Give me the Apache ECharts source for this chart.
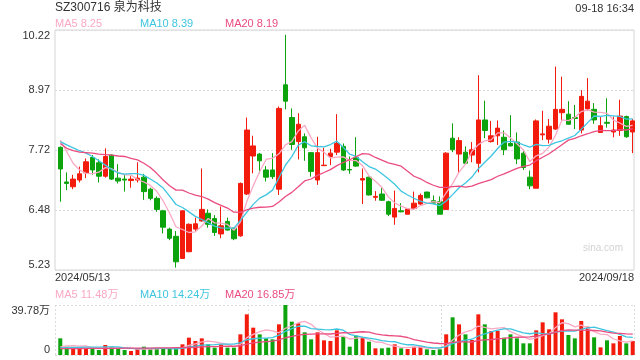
<!DOCTYPE html>
<html>
<head>
    <meta charset="utf-8">
    <script src="https://cdn.jsdelivr.net/npm/echarts@6/dist/echarts.min.js"></script>
    <style>
        html, body { margin: 0; padding: 0; background: #fff; }
        #main { width: 640px; height: 360px; }
    </style>
</head>
<body>
<div id="main"></div>
<script>
    // daily k-line, 2024/05/13 .. 2024/09/18 (90 sessions)
    var open = [7.78, 7.06, 6.96, 7.10, 7.25, 7.57, 7.46, 7.18, 7.62, 7.14,
        7.12, 7.09, 7.10, 7.16, 6.91, 6.72, 6.46, 6.08, 5.93, 5.47,
        5.61, 6.08, 6.25, 6.41, 6.30, 5.98, 6.24, 6.10, 5.94, 6.81,
        7.60, 7.64, 7.31, 7.31, 6.91, 9.08, 8.40, 7.90, 8.00, 7.67,
        7.10, 7.40, 7.59, 7.68, 7.80, 7.32, 7.57, 7.10, 7.16, 6.74,
        6.81, 6.65, 6.33, 6.46, 6.39, 6.51, 6.60, 6.85, 6.67, 6.65,
        6.49, 7.97, 7.64, 7.68, 7.62, 7.45, 8.35, 7.90, 8.02, 7.99,
        7.86, 7.89, 7.66, 7.16, 6.93, 8.04, 7.95, 8.16, 8.50, 8.47,
        8.40, 8.14, 8.58, 8.57, 8.09, 8.30, 8.10, 8.13, 8.42, 8.10];
    var close = [7.33, 7.03, 7.12, 7.23, 7.48, 7.31, 7.18, 7.59, 7.12, 7.08,
        7.10, 7.12, 7.14, 6.86, 6.72, 6.49, 6.12, 5.89, 5.40, 6.46,
        6.18, 6.19, 6.49, 6.18, 6.01, 6.15, 6.06, 5.88, 7.03, 8.14,
        7.81, 7.50, 7.16, 7.17, 8.59, 8.74, 7.84, 8.26, 7.77, 7.28,
        7.67, 7.41, 7.66, 7.86, 7.31, 7.31, 7.39, 7.13, 6.79, 6.76,
        6.68, 6.39, 6.51, 6.44, 6.50, 6.62, 6.78, 6.73, 6.62, 6.39,
        7.66, 7.73, 7.92, 7.45, 7.73, 8.35, 8.13, 8.02, 8.18, 7.73,
        7.81, 7.54, 7.36, 6.98, 8.33, 8.06, 8.22, 8.57, 8.57, 8.26,
        8.38, 8.84, 8.74, 8.35, 8.23, 8.28, 8.14, 8.43, 8.00, 8.33];
    var low = [6.65, 6.89, 6.91, 7.05, 7.14, 7.21, 7.05, 7.15, 7.10, 7.03,
        6.86, 6.94, 7.05, 6.69, 6.68, 6.44, 5.99, 5.85, 5.28, 5.47,
        5.60, 6.03, 6.24, 6.11, 5.94, 5.89, 6.05, 5.85, 5.92, 6.79,
        7.24, 7.24, 7.07, 7.12, 6.79, 8.57, 7.73, 7.53, 7.50, 7.17,
        7.00, 7.39, 7.41, 7.62, 7.29, 7.23, 7.38, 6.60, 6.78, 6.67,
        6.67, 6.35, 6.17, 6.43, 6.39, 6.49, 6.58, 6.72, 6.60, 6.39,
        6.48, 7.68, 7.24, 7.43, 7.47, 7.26, 7.97, 7.88, 7.83, 7.62,
        7.80, 7.43, 7.31, 6.91, 6.93, 7.93, 7.86, 8.14, 8.31, 8.25,
        8.16, 8.07, 8.54, 8.27, 8.09, 8.19, 7.99, 8.02, 7.98, 7.66];
    var high = [7.80, 7.26, 7.21, 7.38, 7.55, 7.62, 7.53, 7.76, 7.63, 7.43,
        7.21, 7.18, 7.47, 7.23, 6.94, 6.76, 6.48, 6.11, 6.04, 6.47,
        6.20, 6.32, 7.34, 6.49, 6.37, 6.55, 6.32, 6.11, 7.05, 8.40,
        8.02, 7.66, 7.39, 7.66, 8.63, 10.12, 8.59, 8.49, 8.07, 7.68,
        8.00, 7.77, 7.75, 8.47, 7.86, 7.59, 7.99, 7.34, 7.17, 6.87,
        6.94, 6.67, 6.88, 6.62, 6.51, 6.86, 6.82, 6.86, 6.78, 6.76,
        7.68, 8.28, 7.99, 7.80, 7.89, 9.28, 8.75, 8.33, 8.34, 8.13,
        8.45, 8.09, 7.73, 7.30, 8.36, 8.54, 8.37, 9.46, 9.25, 8.74,
        8.66, 8.97, 9.22, 8.70, 8.42, 8.80, 8.42, 8.77, 8.44, 8.37];
    // volume, 万手
    var volume = [13.26, 6.63, 5.83, 5.30, 5.30, 4.77, 3.98, 7.96, 6.63, 5.30,
        3.98, 3.18, 4.77, 6.63, 4.77, 4.77, 5.30, 5.30, 5.83, 8.49,
        13.79, 11.14, 13.26, 8.49, 5.83, 8.49, 5.83, 5.83, 16.44, 32.36,
        21.75, 16.44, 13.26, 12.46, 24.40, 39.78, 26.52, 25.19, 18.03, 12.46,
        18.03, 11.67, 11.14, 19.62, 14.59, 6.63, 15.38, 13.79, 10.61, 5.30,
        5.30, 5.83, 8.49, 5.30, 4.77, 6.63, 6.63, 4.51, 3.98, 4.51,
        16.44, 29.97, 24.40, 16.44, 11.93, 32.36, 24.40, 19.10, 19.10, 13.79,
        16.44, 13.26, 9.28, 9.28, 19.62, 25.99, 20.42, 33.95, 28.38, 15.91,
        13.26, 27.05, 22.54, 14.06, 6.10, 11.67, 9.28, 15.12, 9.28, 11.14];

    // MA values before a full window exists
    var ma5Head = [7.93, 7.69, 7.45, 7.31];
    var ma10Head = [7.90, 7.83, 7.77, 7.71, 7.66, 7.59, 7.50, 7.41, 7.32];
    var ma20Head = [7.86, 7.76, 7.71, 7.68, 7.67, 7.66, 7.64, 7.63, 7.62, 7.60,
        7.59, 7.55, 7.52, 7.45, 7.36, 7.24, 7.10, 6.98, 6.89];
    var volMa5Head = [6.5, 7.2, 7.4, 7.0];
    var volMa10Head = [5.6, 5.8, 6.0, 6.1, 6.2, 6.3, 6.3, 6.4, 6.4];
    var volMa20Head = [5.0, 5.0, 5.1, 5.1, 5.2, 5.2, 5.2, 5.3, 5.3, 5.3,
        5.4, 5.4, 5.4, 5.5, 5.5, 5.6, 5.6, 5.7, 5.8];

    var dateLabels = ['2024/05/13', '2024/09/18'];
    var priceTicks = ['5.23', '6.48', '7.72', '8.97', '10.22'];
    var volTicks = ['0', '39.78万'];
    var maLegend = ['MA5 8.25', 'MA10 8.39', 'MA20 8.19'];
    var volMaLegend = ['MA5 11.48万', 'MA10 14.24万', 'MA20 16.85万'];

    var UP = '#f31b0c', DOWN = '#0ca30c';
    var MA_COLORS = ['#f9a9c4', '#3ec5e0', '#ea4c80'];
    var FONT = '"Liberation Sans", Arial, "Noto Sans CJK SC", sans-serif';

    function ma(values, n, head) {
        return values.map(function (v, i) {
            if (i < n - 1) return head[i];
            var s = 0;
            for (var k = i - n + 1; k <= i; k++) s += values[k];
            return +(s / n).toFixed(3);
        });
    }
    function withIndex(arr) {
        return arr.map(function (v, i) { return [i, v]; });
    }

    var kData = open.map(function (o, i) {
        return [i, o, close[i], low[i], high[i]];
    });
    var volData = volume.map(function (v, i) {
        return {
            value: [i, v],
            itemStyle: { color: close[i] >= open[i] ? UP : DOWN }
        };
    });

    var xMin = -0.82, xMax = 89.2;
    var yMin = 5.23, yMax = 10.22, yStep = (yMax - yMin) / 4;
    var volMax = Math.max.apply(null, volume);

    var dotted = { color: '#dcdcdc', type: [2, 2], width: 1 };
    var labelStyle = { color: '#333', fontSize: 11, fontFamily: FONT };

    var titles = [
        { text: 'SZ300716 泉为科技', left: 55, top: 2, padding: 0,
          textStyle: { color: '#333', fontSize: 12, fontWeight: 'normal', fontFamily: FONT } },
        { text: '09-18 16:34', right: 6, top: 3, padding: 0,
          textStyle: { color: '#333', fontSize: 11, fontWeight: 'normal', fontFamily: FONT } },
        { text: 'sina.com', left: 583, top: 243, padding: 0,
          textStyle: { color: '#d2d2d2', fontSize: 10, fontWeight: 'normal', fontFamily: FONT } }
    ];
    maLegend.forEach(function (t, k) {
        titles.push({ text: t, left: 55 + 85 * k, top: 18, padding: 0,
            textStyle: { color: MA_COLORS[k], fontSize: 11, fontWeight: 'normal', fontFamily: FONT } });
    });
    volMaLegend.forEach(function (t, k) {
        titles.push({ text: t, left: 55 + 85 * k, top: 289, padding: 0,
            textStyle: { color: MA_COLORS[k], fontSize: 11, fontWeight: 'normal', fontFamily: FONT } });
    });

    var priceMa = [ma(close, 5, ma5Head), ma(close, 10, ma10Head), ma(close, 20, ma20Head)];
    var volMa = [ma(volume, 5, volMa5Head), ma(volume, 10, volMa10Head), ma(volume, 20, volMa20Head)];

    var series = [{
        type: 'candlestick',
        xAxisIndex: 0, yAxisIndex: 0,
        data: kData,
        barWidth: 5,
        itemStyle: { color: UP, color0: DOWN, borderColor: UP, borderColor0: DOWN, borderWidth: 1 }
    }, {
        type: 'bar',
        xAxisIndex: 1, yAxisIndex: 1,
        data: volData,
        barWidth: 4
    }];
    priceMa.forEach(function (d, k) {
        series.push({ type: 'line', xAxisIndex: 0, yAxisIndex: 0, data: withIndex(d),
            symbol: 'none', silent: true, z: 3,
            lineStyle: { color: MA_COLORS[k], width: 1.3 } });
    });
    volMa.forEach(function (d, k) {
        series.push({ type: 'line', xAxisIndex: 1, yAxisIndex: 1, data: withIndex(d),
            symbol: 'none', silent: true, z: 3,
            lineStyle: { color: MA_COLORS[k], width: 1.3 } });
    });

    var chart = echarts.init(document.getElementById('main'));
    chart.setOption({
        animation: false,
        backgroundColor: '#fff',
        title: titles,
        grid: [
            { left: 55, top: 30, width: 579, height: 240, show: true, borderColor: '#d4d4d4', borderWidth: 1 },
            { left: 55, top: 305, width: 579, height: 50 }
        ],
        xAxis: [{
            gridIndex: 0, type: 'value', min: xMin, max: xMax, interval: xMax - xMin,
            axisLine: { show: false }, axisTick: { show: false }, splitLine: { show: false },
            axisLabel: Object.assign({}, labelStyle, {
                margin: 2,
                alignMinLabel: 'left', alignMaxLabel: 'right',
                formatter: function (v, idx) { return idx === 0 ? dateLabels[0] : dateLabels[1]; }
            })
        }, {
            gridIndex: 1, type: 'value', min: xMin, max: xMax, interval: (xMax - xMin) / 3,
            axisLine: { show: false }, axisTick: { show: false }, axisLabel: { show: false },
            splitLine: { show: true, lineStyle: dotted }
        }],
        yAxis: [{
            gridIndex: 0, type: 'value', min: yMin, max: yMax, interval: yStep,
            axisLine: { show: false }, axisTick: { show: false },
            splitLine: { show: true, lineStyle: dotted },
            axisLabel: Object.assign({}, labelStyle, {
                margin: 5,
                verticalAlignMinLabel: 'bottom', verticalAlignMaxLabel: 'top',
                formatter: function (v) { return priceTicks[Math.round((v - yMin) / yStep)]; }
            })
        }, {
            gridIndex: 1, type: 'value', min: 0, max: volMax, interval: volMax,
            axisLine: { show: false }, axisTick: { show: false },
            splitLine: { show: true, lineStyle: dotted },
            axisLabel: Object.assign({}, labelStyle, {
                margin: 5,
                verticalAlignMinLabel: 'bottom', verticalAlignMaxLabel: 'top',
                formatter: function (v) { return v === 0 ? volTicks[0] : volTicks[1]; }
            })
        }],
        series: series
    });
</script>
</body>
</html>
